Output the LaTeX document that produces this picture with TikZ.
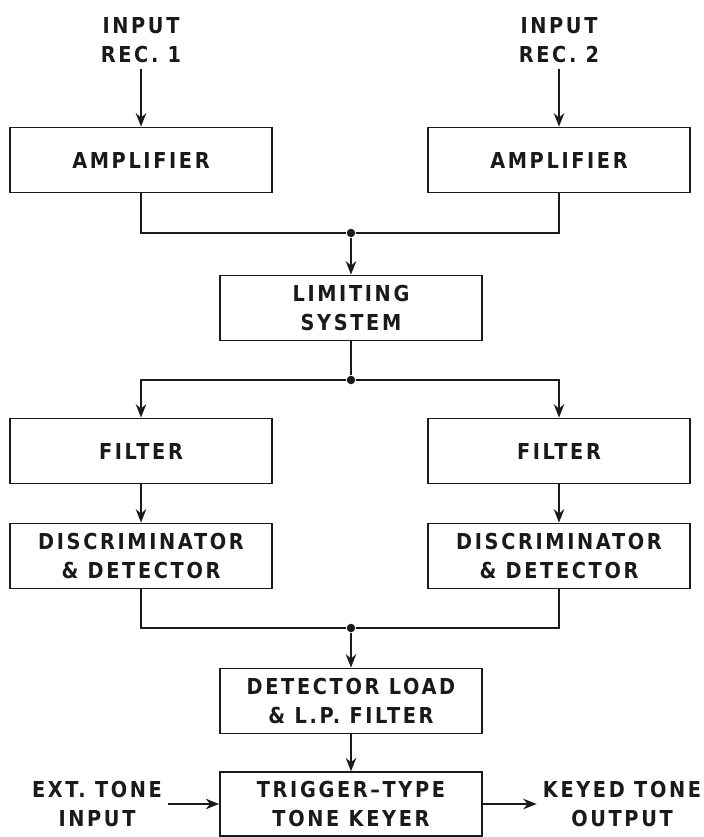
\documentclass[tikz,border=0pt]{standalone}
\usepackage{fontspec}
\usepackage{tikz}
\usepackage{xcolor}
\usetikzlibrary{arrows.meta}
\newfontfamily\lettering{DejaVu Sans}[FakeStretch=0.88,LetterSpace=12]
\definecolor{ink}{HTML}{1A1A1A}

\begin{document}
\begin{tikzpicture}[x=0.02cm, y=-0.02cm,
    every node/.style={font=\lettering\bfseries\fontsize{12.5}{16.5}\selectfont, text=ink},
    blk/.style={draw=ink, line width=1pt, rectangle, minimum width=5.24cm, minimum height=1.3cm, inner sep=0pt, align=center},
    lbl/.style={align=center},
    wire/.style={draw=ink, line width=1pt},
    feed/.style={wire, -{Stealth[length=0.27cm, width=0.21cm, inset=0.09cm]}},
    jn/.style={circle, fill=ink, inner sep=0pt, minimum size=0.17cm}]
    \useasboundingbox (0,0) rectangle (703,837);

    % inputs and amplifiers
    \node[lbl] (in1) at (141,40) {INPUT\\REC. 1};
    \node[lbl] (in2) at (559,40) {INPUT\\REC. 2};
    \node[blk] (amp1) at (141,160) {AMPLIFIER};
    \node[blk] (amp2) at (559,160) {AMPLIFIER};
    \node[jn] (j1) at (351,233) {};
    \node[blk] (lim) at (351,308) {LIMITING\\SYSTEM};
    \node[jn] (j2) at (351,380) {};

    % two filter chains
    \node[blk] (filt1) at (141,451) {FILTER};
    \node[blk] (filt2) at (559,451) {FILTER};
    \node[blk] (disc1) at (141,556) {DISCRIMINATOR\\\& DETECTOR};
    \node[blk] (disc2) at (559,556) {DISCRIMINATOR\\\& DETECTOR};
    \node[jn] (j3) at (351,628) {};

    % output stage
    \node[blk] (det) at (351,701) {DETECTOR LOAD\\\& L.P. FILTER};
    \node[blk, minimum height=1.27cm] (trig) at (351,804) {TRIGGER–TYPE\\TONE KEYER};
    \node[lbl] (ext) at (97,804) {EXT. TONE\\INPUT};
    \node[lbl] (keyed) at (622,804) {KEYED TONE\\OUTPUT};

    \draw[feed] (in1) -- (amp1);
    \draw[feed] (in2) -- (amp2);
    \draw[wire] (amp1.south) |- (j1) -| (amp2.south);
    \draw[feed] (j1) -- (lim);
    \draw[wire] (lim) -- (j2);
    \draw[feed] (j2) -| (filt1.north);
    \draw[feed] (j2) -| (filt2.north);
    \draw[feed] (filt1) -- (disc1);
    \draw[feed] (filt2) -- (disc2);
    \draw[wire] (disc1.south) |- (j3) -| (disc2.south);
    \draw[feed] (j3) -- (det);
    \draw[feed] (det) -- (trig);
    \draw[feed] (ext) -- (trig);
    \draw[feed] (trig) -- (keyed);
\end{tikzpicture}
\end{document}
